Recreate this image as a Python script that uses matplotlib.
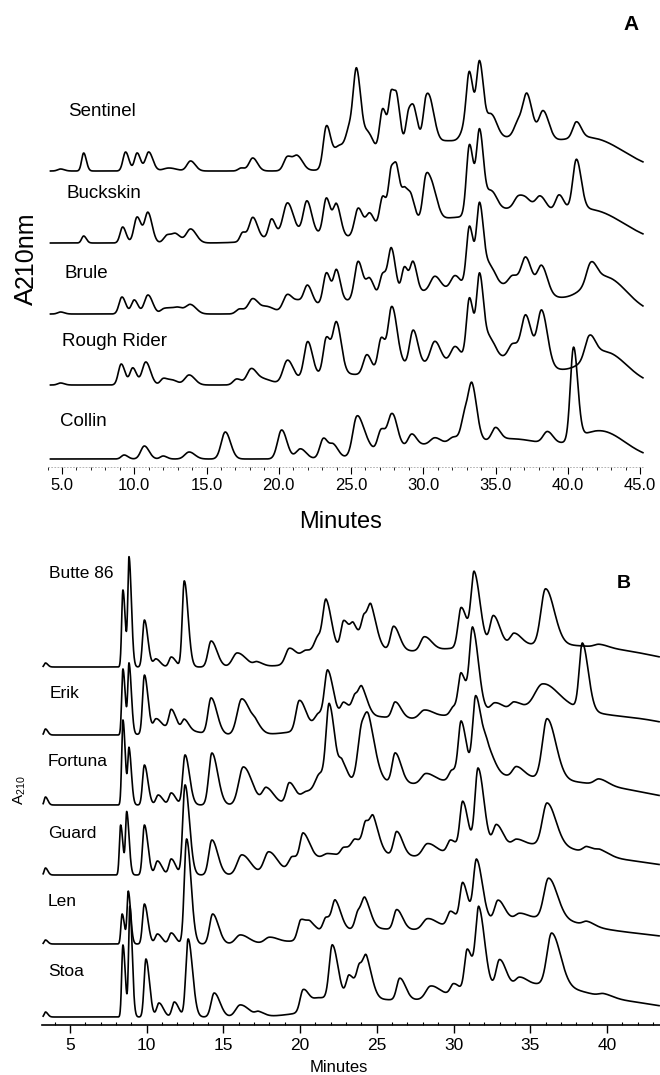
import numpy as np
import matplotlib
matplotlib.use("Agg")
import matplotlib.pyplot as plt
from matplotlib.ticker import FixedLocator, FormatStrFormatter

plt.rcParams['font.family'] = ['Liberation Sans', 'DejaVu Sans']

# ---------------------------------------------------------------------------
# Peak tables: (retention time [min], height [mAU], width sigma [min])
# Components with sigma >= 1.5 min describe the unresolved background hump.
# ---------------------------------------------------------------------------

# Panel A cultivars
sentinel = [(4.9, 2, 0.2), (6.5, 18, 0.14), (9.4, 19, 0.18), (10.2, 18, 0.18), (11.0, 19, 0.22),
            (12.4, 3, 0.4), (13.9, 10, 0.25), (17.4, 3, 0.2), (18.2, 13, 0.25), (20.6, 14, 0.25),
            (21.3, 14, 0.28), (23.3, 42, 0.22), (24.2, 22, 0.4), (24.9, 26, 0.25), (25.4, 86, 0.24),
            (26.2, 26, 0.3), (27.2, 46, 0.22), (27.8, 54, 0.18), (28.2, 42, 0.18), (29.0, 34, 0.2),
            (29.4, 26, 0.2), (30.2, 42, 0.2), (30.6, 24, 0.22), (32.9, 12, 0.3), (33.2, 60, 0.21),
            (33.9, 76, 0.21), (34.7, 24, 0.3), (36.6, 16, 0.3), (37.2, 40, 0.28), (38.3, 29, 0.3),
            (40.6, 16, 0.25), (30.5, 28, 3.0), (36.5, 28, 2.5), (41.8, 30, 2.2)]
buckskin = [(6.5, 7, 0.14), (9.2, 16, 0.18), (10.2, 26, 0.22), (10.95, 30, 0.22), (12.3, 8, 0.25),
            (12.9, 8, 0.25), (13.9, 14, 0.3), (17.5, 9, 0.18), (18.2, 23, 0.25), (19.5, 18, 0.2),
            (20.6, 31, 0.3), (21.95, 32, 0.25), (23.3, 37, 0.22), (24.0, 31, 0.22), (25.5, 28, 0.25),
            (26.3, 20, 0.25), (27.2, 34, 0.22), (27.8, 54, 0.19), (28.2, 44, 0.19), (28.75, 32, 0.22),
            (29.2, 18, 0.2), (30.2, 43, 0.22), (30.7, 24, 0.25), (33.2, 71, 0.21), (33.9, 82, 0.21),
            (34.7, 20, 0.3), (36.6, 12, 0.3), (37.2, 7, 0.3), (38.1, 14, 0.3), (39.4, 16, 0.25),
            (40.6, 50, 0.25), (21.5, 10, 2.0), (30.5, 22, 3.0), (36.5, 30, 2.5), (41.8, 30, 2.2)]
brule = [(4.9, 2, 0.2), (9.15, 17, 0.2), (10.0, 14, 0.2), (10.95, 19, 0.25), (12.0, 4, 0.2),
         (12.5, 5, 0.3), (13.1, 5, 0.3), (13.9, 9, 0.3), (17.3, 5, 0.25), (18.2, 15, 0.3),
         (19.2, 7, 0.4), (20.6, 18, 0.3), (21.4, 8, 0.3), (22.0, 21, 0.25), (23.3, 30, 0.22),
         (24.0, 30, 0.2), (25.5, 40, 0.25), (26.3, 22, 0.25), (27.2, 26, 0.22), (27.8, 48, 0.22),
         (28.7, 28, 0.2), (29.3, 30, 0.2), (30.8, 14, 0.3), (32.2, 14, 0.3), (33.2, 62, 0.21),
         (33.9, 82, 0.21), (34.6, 20, 0.3), (36.2, 10, 0.3), (37.1, 30, 0.3), (38.2, 27, 0.3),
         (41.6, 20, 0.3), (24.0, 11, 1.6), (30.5, 22, 3.0), (36.5, 25, 2.5), (42.6, 36, 1.5)]
rough_rider = [(4.9, 2, 0.2), (9.1, 21, 0.2), (9.9, 17, 0.2), (10.8, 23, 0.25), (12.0, 6, 0.2),
               (12.6, 5, 0.3), (13.8, 10, 0.3), (17.1, 6, 0.25), (18.1, 16, 0.3), (19.0, 5, 0.4),
               (20.6, 22, 0.3), (22.0, 36, 0.25), (23.3, 36, 0.22), (24.0, 50, 0.25), (26.1, 20, 0.25),
               (27.1, 35, 0.23), (27.8, 58, 0.23), (28.2, 15, 0.25), (29.3, 36, 0.25), (30.8, 22, 0.3),
               (32.2, 16, 0.3), (33.2, 63, 0.21), (33.9, 84, 0.21), (34.6, 20, 0.3), (36.2, 14, 0.3),
               (37.1, 44, 0.3), (38.2, 54, 0.3), (41.5, 22, 0.3), (23.5, 10, 1.8), (30.5, 20, 3.0),
               (36.5, 24, 2.5), (42.6, 32, 1.5)]
collin = [(9.3, 4, 0.2), (10.7, 13, 0.25), (12.0, 3, 0.2), (13.8, 7, 0.3), (16.3, 27, 0.28),
          (20.2, 29, 0.28), (21.5, 10, 0.3), (23.1, 20, 0.25), (23.8, 12, 0.25), (25.4, 38, 0.28),
          (26.0, 12, 0.3), (27.1, 22, 0.25), (27.8, 30, 0.25), (28.1, 8, 0.25), (29.2, 12, 0.25),
          (30.8, 6, 0.3), (32.1, 6, 0.3), (32.9, 28, 0.25), (33.4, 50, 0.25), (35.0, 12, 0.25),
          (38.6, 12, 0.3), (40.4, 92, 0.22), (30.5, 14, 3.0), (36.5, 18, 2.5), (42.3, 27, 1.7)]

# Panel B cultivars
butte86 = [(3.4, 4, 0.08), (8.45, 77, 0.08), (8.85, 108, 0.08), (9.85, 47, 0.12), (10.6, 8, 0.15),
           (11.6, 10, 0.15), (12.45, 86, 0.13), (14.2, 26, 0.2), (15.9, 14, 0.3), (17.2, 4, 0.2),
           (19.3, 16, 0.25), (20.4, 10, 0.3), (21.2, 18, 0.25), (21.7, 46, 0.2), (22.85, 31, 0.2),
           (23.5, 20, 0.2), (24.2, 30, 0.2), (24.65, 29, 0.2), (26.1, 24, 0.2), (28.1, 14, 0.25),
           (30.5, 40, 0.2), (31.35, 72, 0.2), (32.6, 30, 0.22), (33.95, 12, 0.25), (36.0, 56, 0.3),
           (39.5, 3, 0.3), (24.0, 16, 2.5), (30.5, 16, 3.0), (36.0, 16, 3.0), (41.0, 13, 3.0)]
erik = [(3.4, 6, 0.08), (8.45, 66, 0.08), (8.85, 70, 0.08), (9.85, 58, 0.12), (10.6, 10, 0.15),
        (11.6, 18, 0.15), (12.45, 10, 0.15), (14.2, 36, 0.2), (16.2, 36, 0.3), (17.1, 6, 0.2),
        (19.95, 30, 0.22), (21.2, 12, 0.25), (21.8, 48, 0.2), (22.85, 16, 0.2), (23.6, 20, 0.2),
        (24.05, 20, 0.2), (26.2, 16, 0.2), (28.1, 8, 0.3), (30.0, 8, 0.2), (30.5, 38, 0.18),
        (31.25, 83, 0.2), (32.7, 10, 0.3), (33.95, 8, 0.25), (35.8, 22, 0.5), (38.4, 66, 0.2),
        (11.2, 8, 0.8), (24.0, 17, 2.5), (31.0, 20, 3.0), (36.5, 22, 2.2), (41.5, 16, 3.0)]
fortuna = [(3.4, 8, 0.08), (8.45, 85, 0.08), (8.85, 55, 0.08), (9.85, 40, 0.12), (10.75, 10, 0.15),
           (11.6, 12, 0.15), (12.5, 50, 0.15), (14.25, 52, 0.2), (16.3, 38, 0.3), (17.8, 16, 0.25),
           (19.3, 20, 0.2), (20.4, 8, 0.3), (21.3, 20, 0.3), (21.9, 78, 0.2), (22.75, 22, 0.2),
           (24.05, 58, 0.28), (24.5, 26, 0.25), (26.2, 30, 0.2), (28.2, 10, 0.3), (29.9, 10, 0.2),
           (30.5, 55, 0.18), (31.45, 80, 0.2), (32.2, 25, 0.25), (34.1, 10, 0.25), (36.1, 60, 0.3),
           (39.5, 6, 0.3), (24.5, 20, 2.5), (31.0, 22, 3.0), (36.0, 18, 3.0), (41.0, 12, 3.0)]
guard = [(3.4, 7, 0.08), (8.3, 50, 0.08), (8.7, 62, 0.08), (9.85, 50, 0.12), (10.7, 14, 0.15),
         (11.6, 16, 0.15), (12.5, 90, 0.15), (14.25, 35, 0.2), (16.2, 20, 0.3), (17.95, 22, 0.3),
         (19.5, 14, 0.25), (20.2, 30, 0.2), (20.8, 8, 0.3), (21.8, 6, 0.3), (22.85, 8, 0.2),
         (23.6, 14, 0.25), (24.3, 27, 0.2), (24.8, 25, 0.2), (26.3, 24, 0.2), (28.3, 12, 0.3),
         (29.8, 12, 0.2), (30.6, 48, 0.18), (31.6, 80, 0.2), (32.8, 22, 0.22), (34.1, 6, 0.25),
         (36.1, 42, 0.3), (38.7, 6, 0.25), (39.6, 5, 0.3), (24.0, 20, 2.5), (31.0, 22, 3.0),
         (36.0, 20, 2.5), (41.0, 13, 3.5)]
len_ = [(3.4, 4, 0.08), (8.4, 30, 0.08), (8.8, 52, 0.08), (9.85, 40, 0.12), (10.7, 10, 0.15),
        (11.6, 11, 0.15), (12.6, 105, 0.15), (14.3, 30, 0.2), (16.1, 9, 0.3), (18.0, 6, 0.3),
        (20.05, 20, 0.2), (20.7, 12, 0.25), (21.7, 16, 0.2), (22.3, 28, 0.2), (23.8, 18, 0.2),
        (24.25, 22, 0.2), (26.3, 20, 0.2), (28.3, 10, 0.3), (29.8, 14, 0.2), (30.6, 40, 0.18),
        (31.5, 62, 0.2), (32.9, 20, 0.22), (34.3, 5, 0.25), (36.2, 40, 0.3), (38.7, 4, 0.25),
        (24.0, 14, 2.5), (31.0, 18, 3.0), (36.0, 18, 2.5), (41.0, 10, 3.5)]
stoa = [(3.4, 5, 0.08), (8.45, 72, 0.08), (8.9, 110, 0.08), (9.95, 58, 0.12), (10.8, 14, 0.15),
        (11.8, 15, 0.15), (12.7, 78, 0.15), (14.4, 24, 0.2), (16.1, 12, 0.3), (17.3, 4, 0.2),
        (20.2, 22, 0.2), (21.2, 10, 0.4), (22.1, 55, 0.2), (23.2, 25, 0.2), (23.9, 30, 0.2),
        (24.35, 28, 0.2), (26.5, 22, 0.2), (28.5, 12, 0.3), (30.0, 10, 0.2), (30.9, 42, 0.18),
        (31.65, 80, 0.2), (33.0, 28, 0.22), (34.3, 8, 0.25), (36.4, 52, 0.3), (39.8, 3, 0.3),
        (24.0, 16, 2.5), (31.0, 22, 3.0), (36.0, 22, 2.5), (41.0, 14, 3.5)]

names_a = ["Sentinel", "Buckskin", "Brule", "Rough Rider", "Collin"]
peaks_a = [sentinel, buckskin, brule, rough_rider, collin]
names_b = ["Butte 86", "Erik", "Fortuna", "Guard", "Len", "Stoa"]
peaks_b = [butte86, erik, fortuna, guard, len_, stoa]

ticks_a = [5, 10, 15, 20, 25, 30, 35, 40, 45]
ticks_b = [5, 10, 15, 20, 25, 30, 35, 40]

# ---------------------------------------------------------------------------
# Layout (pixel geometry of the 660 x 1075 figure)
# ---------------------------------------------------------------------------
W, H = 660, 1075
offsets_a = [171, 243, 314, 385, 459]          # trace baselines, px from top
label_xy_a = [(68, 112), (66, 193), (65, 273), (62, 342), (60, 422)]
offsets_b = [667, 735, 805, 875, 944, 1017]
label_xy_b = [(49, 573), (50, 693), (48, 762), (48, 833), (48, 902), (48, 972)]


def chromatogram(t, peaks, tail):
    """Sum of split-Gaussian peaks (tailing on the right side)."""
    y = np.zeros_like(t)
    for rt, h, s in peaks:
        sr = s * tail if s < 1.0 else s
        sig = np.where(t < rt, s, sr)
        y += h * np.exp(-0.5 * ((t - rt) / sig) ** 2)
    return y


fig = plt.figure(figsize=(W / 100, H / 100), dpi=100)


def fx(px):
    return px / W


def fy(py):
    return 1 - py / H


# ----------------------------- panel A -------------------------------------
a_top, a_bot = 0, 467
axA = fig.add_axes([0, fy(a_bot), 1, (a_bot - a_top) / H])
x0A, kA = 62, 14.45                               # px of 5 min, px per min
axA.set_xlim(5 - x0A / kA, 5 + (W - x0A) / kA)
axA.set_ylim(-a_bot, -a_top)
tA = np.linspace(4.2, 45.2, 4000)
for pk, off in zip(peaks_a, offsets_a):
    axA.plot(tA, -off + chromatogram(tA, pk, 1.3), color='black', lw=1.2)
for name, (lx, ly) in zip(names_a, label_xy_a):
    fig.text(fx(lx), fy(ly), name, fontsize=13.5, ha='left', va='center')

for s in ['top', 'left', 'right']:
    axA.spines[s].set_visible(False)
axA.spines['bottom'].set_bounds(4.0, 45.2)
axA.spines['bottom'].set_linewidth(0.5)
axA.spines['bottom'].set_color('0.6')
axA.spines['bottom'].set_linestyle((0, (1.5, 3)))
axA.set_yticks([])
axA.xaxis.set_major_locator(FixedLocator(ticks_a))
axA.xaxis.set_minor_locator(FixedLocator(np.arange(4, 46, 1)))
axA.xaxis.set_major_formatter(FormatStrFormatter('%.1f'))
axA.tick_params(axis='x', which='major', length=5, width=0.8, direction='out',
                labelsize=12, pad=3)
axA.tick_params(axis='x', which='minor', length=2.2, width=0.6, direction='out')
fig.text(fx(341), fy(522), "Minutes", fontsize=17, ha='center', va='center')
fig.text(fx(631), fy(25), "A", fontsize=15, fontweight='bold', ha='center', va='center')
fig.text(fx(33), fy(296), "A", fontsize=19, rotation=90, ha='center', va='baseline',
         rotation_mode='anchor')
fig.text(fx(33), fy(250), "210nm", fontsize=18, rotation=90, ha='center', va='baseline',
         rotation_mode='anchor')

# ----------------------------- panel B -------------------------------------
b_top, b_bot = 530, 1025
axB = fig.add_axes([0, fy(b_bot), 1, (b_bot - b_top) / H])
x0B, kB = 70, 15.34
axB.set_xlim(5 - x0B / kB, 5 + (W - x0B) / kB)
axB.set_ylim(-b_bot, -b_top)
tB = np.linspace(3.25, 43.4, 4000)
for pk, off in zip(peaks_b, offsets_b):
    axB.plot(tB, -off + chromatogram(tB, pk, 1.9), color='black', lw=1.2)
for name, (lx, ly) in zip(names_b, label_xy_b):
    fig.text(fx(lx), fy(ly), name, fontsize=12.5, ha='left', va='center')

for s in ['top', 'left', 'right']:
    axB.spines[s].set_visible(False)
axB.spines['bottom'].set_bounds(3.2, 43.5)
axB.spines['bottom'].set_linewidth(1.2)
axB.set_yticks([])
axB.xaxis.set_major_locator(FixedLocator(ticks_b))
axB.xaxis.set_minor_locator(FixedLocator(np.arange(4, 44, 1)))
axB.tick_params(axis='x', which='major', length=6, width=1.0, direction='out',
                labelsize=12.5, pad=3)
axB.tick_params(axis='x', which='minor', length=2.3, width=0.8, direction='in')
fig.text(fx(339), fy(1067), "Minutes", fontsize=12, ha='center', va='center')
fig.text(fx(624), fy(583), "B", fontsize=14, fontweight='bold', ha='center', va='center')
fig.text(fx(20), fy(790), r"A$_{\mathregular{210}}$", fontsize=11, rotation=90,
         ha='center', va='center')

fig.savefig("out.png", dpi=100)
